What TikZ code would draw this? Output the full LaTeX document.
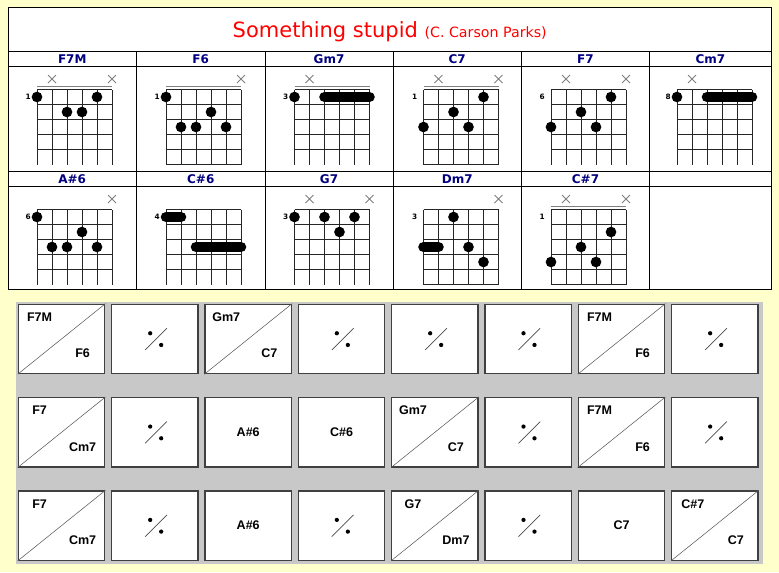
\documentclass[tikz,border=0pt]{standalone}
\usepackage{fontspec}
\setmainfont{DejaVu Sans}
\newfontfamily\boxfont{Liberation Sans}
\usepackage{tikz}
\usetikzlibrary{positioning}
\usepackage{xcolor}
\definecolor{bgyellow}{HTML}{FFFFCC}
\definecolor{panelgray}{HTML}{C8C8C8}
\definecolor{chordblue}{HTML}{000080}
\definecolor{boxgray}{HTML}{404040}
\definecolor{mutegray}{HTML}{808080}

\tikzset{
    tableline/.style={draw=black, line width=0.75pt},
    gridline/.style={draw=black!85, line width=0.75pt},
    nutline/.style={draw=mutegray, line width=0.7pt},
    mute/.style={draw=mutegray, line width=0.6pt},
    dot/.style={fill=black},
    barre/.style={draw=black, line width=7.9pt, line cap=round},
    chordname/.style={anchor=base, text=chordblue, font=\bfseries\fontsize{9pt}{10pt}\selectfont},
    fretnum/.style={anchor=east, inner sep=0pt, font=\bfseries\fontsize{5.5pt}{6pt}\selectfont},
    barbox/.style={draw=boxgray, fill=white, line width=1pt, minimum width=64.9pt, minimum height=52pt, inner sep=0pt},
    diag/.style={draw=black!65, line width=0.4pt},
    slashline/.style={draw=black!70, line width=0.55pt},
    chordtxt/.style={anchor=base, inner sep=0pt, font=\boxfont\bfseries\fontsize{9.4pt}{11pt}\selectfont}
}

\begin{document}
\begin{tikzpicture}[x=0.75pt, y=-0.75pt]
    \fill[bgyellow] (0,0) rectangle (779,572);

    \filldraw[fill=white, tableline] (8,7) rectangle (771.5,289.5);
    \foreach \y in {51.5,66,171.5,186}
        \draw[tableline] (8,\y) -- (771.5,\y);
    \foreach \x in {136.5,265,393,521.5,649.5}
        \draw[tableline] (\x,51.5) -- (\x,289.5);

    \node[anchor=base, red] (title) at (389.75,37) {\fontsize{15.75pt}{18pt}\selectfont Something stupid \fontsize{10.65pt}{12pt}\selectfont(C. Carson Parks)};

    \foreach \x/\n [count=\i] in {72.25/F7M, 200.75/F6, 329/Gm7, 457.25/C7, 585.5/F7, 710.5/Cm7}
        \node[chordname] (h\i) at (\x,63.3) {\n};
    \foreach \x/\n [count=\i from 7] in {72.25/A\#6, 200.75/C\#6, 329/G7, 457.25/Dm7, 585.5/C\#7}
        \node[chordname] (h\i) at (\x,183.3) {\n};

    \foreach \gx/\gy/\fr/\nf/\nut [count=\k] in {
        37/89.5/1/4/1, 166/89.5/1/5/1, 294.5/89.5/3/4/1, 423.5/89.5/1/5/1, 551/89.5/6/4/0, 677/89.5/8/4/0,
        37/209.5/6/4/0, 166/209.5/4/4/0, 294.5/209.5/3/4/0, 423.5/209.5/3/5/0, 551/209.5/1/5/1}
    {
        \coordinate (c\k) at (\gx,\gy);
        \foreach \s in {0,...,5}
            \draw[gridline] ({\gx+15*\s},\gy) -- ++(0,75);
        \foreach \f in {0,...,\nf}
            \draw[gridline] (\gx,{\gy+15*\f}) -- ++(75,0);
        \ifnum\nut=1 \draw[nutline] (\gx,{\gy-3}) -- ++(75,0); \fi
        \node[fretnum] (fn\k) at ({\gx-6},{\gy+7.5}) {\fr};
    }

    \foreach \k/\s in {1/2,1/6,2/6,3/2,4/2,4/6,5/2,5/6,6/2,7/6,9/2,9/6,10/6,11/2,11/6}
        \draw[mute] ([shift={(15*\s-19,-14.5)}]c\k) -- ++(8,8)
                    ([shift={(15*\s-19,-6.5)}]c\k) -- ++(8,-8);

    \foreach \k/\s/\f in {1/1/1, 1/5/1, 1/3/2, 1/4/2, 2/1/1, 2/4/2, 2/2/3, 2/3/3, 2/5/3,
        3/1/1, 4/5/1, 4/3/2, 4/1/3, 4/4/3, 5/5/1, 5/3/2, 5/1/3, 5/4/3, 6/1/1,
        7/1/1, 7/4/2, 7/2/3, 7/3/3, 7/5/3, 9/1/1, 9/3/1, 9/5/1, 9/4/2,
        10/3/1, 10/4/3, 10/5/4, 11/5/2, 11/3/3, 11/1/4, 11/4/4}
        \fill[dot] ([shift={(15*\s-15,15*\f-7.5)}]c\k) circle (4pt);

    \foreach \k/\a/\b/\f in {3/3/6/1, 6/3/6/1, 8/1/2/1, 8/3/6/3, 10/1/2/3}
        \draw[barre] ([shift={(15*\a-15,15*\f-7.5)}]c\k) -- ([shift={(15*\b-15,15*\f-7.5)}]c\k);

    \fill[panelgray] (16,302) rectangle (762.5,564);
    \foreach \r in {1,2,3}
        \foreach \c in {1,...,8}
            \node[barbox] (b\r\c) at ({61.55+93.33*(\c-1)},{338.95+93.33*(\r-1)}) {};

    \foreach \b/\ca/\cb in {11/F7M/F6, 13/Gm7/C7, 17/F7M/F6, 21/F7/Cm7, 25/Gm7/C7, 27/F7M/F6,
        31/F7/Cm7, 35/G7/Dm7, 38/C\#7/C7} {
        \draw[diag] (b\b.south west) -- (b\b.north east);
        \node[chordtxt] (t\b) at ([shift={(22,18)}]b\b.north west) {\ca};
        \node[chordtxt] (u\b) at ([shift={(65,-16.6)}]b\b.south west) {\cb};
    }
    \foreach \b/\n in {23/A\#6, 24/C\#6, 33/A\#6, 37/C7}
        \node[chordtxt, anchor=center] (s\b) at (b\b.center) {\n};

    \foreach \b in {12,14,15,16,18,22,26,28,32,34,36} {
        \draw[slashline] ([shift={(-9.7,11)}]b\b.center) -- ([shift={(12,-10.7)}]b\b.center);
        \fill ([shift={(-4.7,-5.7)}]b\b.center) circle (1.6pt);
        \fill ([shift={(6.3,6)}]b\b.center) circle (1.6pt);
    }
\end{tikzpicture}
\end{document}
